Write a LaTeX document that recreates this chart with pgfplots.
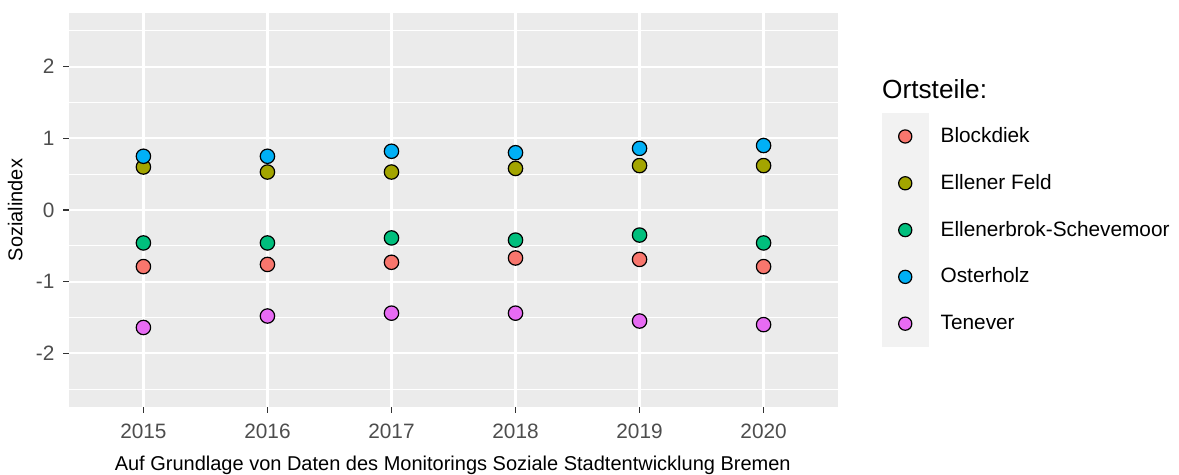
\documentclass[border=0pt]{standalone}
\usepackage{pgfplots}
\pgfplotsset{compat=1.18}
\usepackage{fontspec}
\setmainfont{Liberation Sans}

\definecolor{panelbg}{HTML}{EBEBEB}
\definecolor{keybg}{HTML}{F2F2F2}
\definecolor{grey20}{HTML}{333333}
\definecolor{grey30}{HTML}{4D4D4D}
\definecolor{cBlock}{HTML}{F8766D}
\definecolor{cEllF}{HTML}{A3A500}
\definecolor{cEllS}{HTML}{00BF7D}
\definecolor{cOst}{HTML}{00B0F6}
\definecolor{cTen}{HTML}{E76BF3}

\pgfplotsset{
  dot/.style={only marks, mark=*, mark size=3.6pt,
    mark options={draw=black, fill=#1, line width=0.6pt}},
}

\begin{document}
\begin{tikzpicture}
\useasboundingbox (-34.5pt,-34pt) rectangle (555pt,203.5pt);
\begin{axis}[
  scale only axis, width=384.5pt, height=197pt,
  xmin=2014.4, xmax=2020.6, ymin=-2.75, ymax=2.75,
  clip=false,
  axis background/.style={fill=panelbg},
  axis line style={draw=none},
  xtick={2015,2016,2017,2018,2019,2020},
  xticklabels={2015,2016,2017,2018,2019,2020},
  ytick={-2,-1,0,1,2},
  yticklabels={-2,-1,0,1,2},
  minor ytick={-2.5,-1.5,-0.5,0.5,1.5,2.5},
  xmajorgrids, ymajorgrids, yminorgrids,
  major grid style={white, line width=1.1pt},
  minor grid style={white, line width=0.55pt},
  tick pos=left, tick align=outside,
  major tick length=2.8pt, minor tick length=0pt,
  tick style={color=grey20, line width=0.6pt},
  ticklabel style={color=grey30, font=\fontsize{10.4}{12}\selectfont},
  xticklabel style={yshift=-2pt},
  yticklabel style={xshift=-1pt},
  xlabel={Auf Grundlage von Daten des Monitorings Soziale Stadtentwicklung Bremen},
  ylabel={Sozialindex},
  label style={font=\fontsize{10}{12}\selectfont},
  every axis x label/.style={at={(axis description cs:0.499,-0.147)}, anchor=center},
  every axis y label/.style={at={(axis description cs:-0.070,0.5)}, anchor=center, rotate=90},
  legend style={at={(1.057,0.746)}, anchor=north west, draw=none, fill=none,
    inner sep=0pt, outer sep=0pt,
    row sep=0pt, column sep=6pt,
    nodes={inner sep=0pt, outer sep=0pt, font=\fontsize{10.4}{12}\selectfont}},
  legend cell align=left,
  legend image code/.code={
    \fill[keybg] (0pt,-11.5pt) rectangle (23pt,11.5pt);
    \draw[#1, mark size=3.3pt] plot[only marks] coordinates {(11.5pt,0pt)};
  },
]
% Blockdiek
\addplot[dot=cBlock] coordinates {
  (2015,-0.79) (2016,-0.76) (2017,-0.73) (2018,-0.67) (2019,-0.69) (2020,-0.79)
};
\addlegendentry{Blockdiek}
% Ellener Feld
\addplot[dot=cEllF] coordinates {
  (2015,0.60) (2016,0.53) (2017,0.53) (2018,0.58) (2019,0.62) (2020,0.62)
};
\addlegendentry{Ellener Feld}
% Ellenerbrok-Schevemoor
\addplot[dot=cEllS] coordinates {
  (2015,-0.46) (2016,-0.46) (2017,-0.39) (2018,-0.42) (2019,-0.35) (2020,-0.46)
};
\addlegendentry{Ellenerbrok-Schevemoor}
% Osterholz
\addplot[dot=cOst] coordinates {
  (2015,0.75) (2016,0.75) (2017,0.82) (2018,0.80) (2019,0.86) (2020,0.90)
};
\addlegendentry{Osterholz}
% Tenever
\addplot[dot=cTen] coordinates {
  (2015,-1.64) (2016,-1.48) (2017,-1.44) (2018,-1.44) (2019,-1.55) (2020,-1.60)
};
\addlegendentry{Tenever}

\node[anchor=west, inner sep=0pt, font=\fontsize{13.1}{15}\selectfont]
  at (axis description cs:1.057,0.807) {Ortsteile:};
\end{axis}
\end{tikzpicture}
\end{document}
